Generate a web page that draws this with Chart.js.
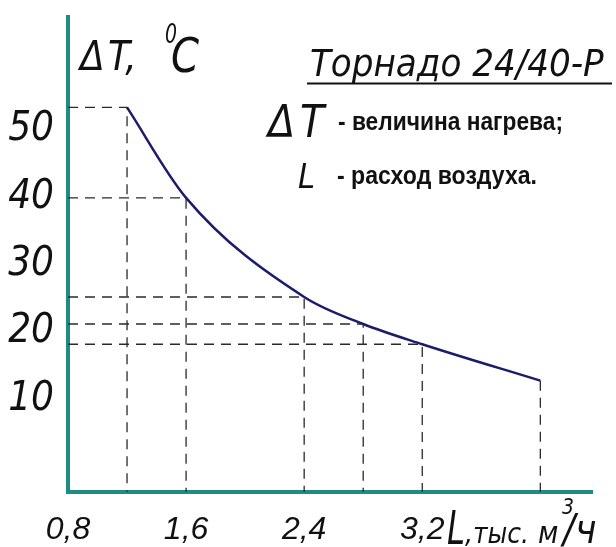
<!DOCTYPE html>
<html><head><meta charset="utf-8">
<script src="https://cdn.jsdelivr.net/npm/chart.js@4/dist/chart.umd.min.js"></script>
<style>html,body{margin:0;padding:0;background:#fff}canvas{display:block}</style>
</head><body>
<canvas id="c" width="616" height="547"></canvas>
<script>
// Data
const airflow = [1.2, 1.6, 2.4, 2.8, 3.2, 4.0];          // L, thousand m3/h
const heating = [53.3, 39.9, 25.2, 21.2, 18.2, 12.8];    // dT, degC
const xTickValues = [0.8, 1.6, 2.4, 3.2];
const yTickValues = [10, 20, 30, 40, 50];
const X_MIN = 0.8, X_MAX = 4.35, Y_MIN = -3.7, Y_MAX = 66.7;

const TEAL = '#1f8c84';
const CURVE = '#1c1c6a';
const DASH = '#2a2a2a';
const GOST = '"Liberation Sans Narrow", "DejaVu Sans Condensed", sans-serif';
const ARIAL = '"Liberation Sans", Arial, sans-serif';

const datasets = [{
  data: airflow.map((x, i) => ({x, y: heating[i]})),
  borderColor: CURVE, borderWidth: 2.5, pointRadius: 0,
  cubicInterpolationMode: 'monotone', fill: false
}];
airflow.forEach((x, i) => {
  const y = heating[i];
  const last = i === airflow.length - 1;
  const pts = last ? [{x, y}, {x, y: Y_MIN}] : [{x: X_MIN, y}, {x, y}, {x, y: Y_MIN}];
  datasets.push({data: pts, borderColor: DASH, borderWidth: 1.3, borderDash: [10, 7],
    pointRadius: 0, tension: 0, fill: false});
});

const textPlugin = {
  id: 'texts',
  afterDraw(chart) {
    const ctx = chart.ctx;
    ctx.save();
    ctx.fillStyle = '#111';
    ctx.textBaseline = 'alphabetic';
    ctx.textAlign = 'left';
    const it = (size) => 'italic ' + size + 'px ' + GOST;
    const put = (t, size, x, y, w) => { ctx.font = it(size); if (w) ctx.fillText(t, x, y, w); else ctx.fillText(t, x, y); };
    // y-axis title
    put('Δ', 40, 80, 70, 28);
    put('T,', 40, 108, 70, 30);
    put('0', 26, 165, 43, 12);
    put('C', 48, 171, 72, 28);
    // heading
    put('Торнадо 24/40-Р', 38, 310, 76, 300);
    ctx.strokeStyle = '#111'; ctx.lineWidth = 2;
    ctx.beginPath(); ctx.moveTo(307, 83.5); ctx.lineTo(612, 83.5); ctx.stroke();
    // legend
    put('Δ', 44, 268, 137, 30);
    put('T', 44, 300, 137, 28);
    ctx.font = 'bold 26px "Liberation Sans Narrow", "Liberation Sans", Arial, sans-serif';
    ctx.fillText('- величина нагрева;', 338, 130, 225);
    put('L', 34, 298, 188, 18);
    ctx.font = 'bold 26px "Liberation Sans Narrow", "Liberation Sans", Arial, sans-serif';
    ctx.fillText('- расход воздуха.', 337, 184, 200);
    // x-axis title
    put('L', 46, 447, 544, 18);
    put(',тыс.', 28, 465, 543, 64);
    put('м', 30, 538, 543, 21);
    put('3', 22, 562, 514, 12);
    put('/ч', 40, 563, 543, 45);
    ctx.restore();
  }
};

new Chart(document.getElementById('c'), {
  type: 'line',
  data: {datasets},
  plugins: [textPlugin],
  options: {
    responsive: false, animation: false,
    layout: {padding: {left: 0, right: 24, top: 17, bottom: 0}},
    plugins: {legend: {display: false}, tooltip: {enabled: false}},
    scales: {
      x: {
        type: 'linear', min: X_MIN, max: X_MAX,
        afterBuildTicks: s => { s.ticks = xTickValues.map(v => ({value: v})); },
        afterFit: s => { s.height = 55; s.paddingLeft = 0; s.paddingRight = 0; },
        ticks: {autoSkip: false, maxRotation: 0, padding: 19, color: '#111',
          font: {family: ARIAL, style: 'italic', size: 32},
          callback: v => v.toFixed(1).replace('.', ',')},
        grid: {display: false, drawTicks: false},
        border: {display: true, color: TEAL, width: 4}
      },
      y: {
        type: 'linear', min: Y_MIN, max: Y_MAX,
        afterBuildTicks: s => { s.ticks = yTickValues.map(v => ({value: v})); },
        afterFit: s => { s.width = 68; s.paddingTop = 0; s.paddingBottom = 0; },
        ticks: {autoSkip: false, padding: 14, color: '#111',
          font: {family: GOST, style: 'italic', size: 40},
          callback: v => String(v)},
        grid: {display: false, drawTicks: false},
        border: {display: true, color: TEAL, width: 4}
      }
    }
  }
});
</script>
</body></html>
